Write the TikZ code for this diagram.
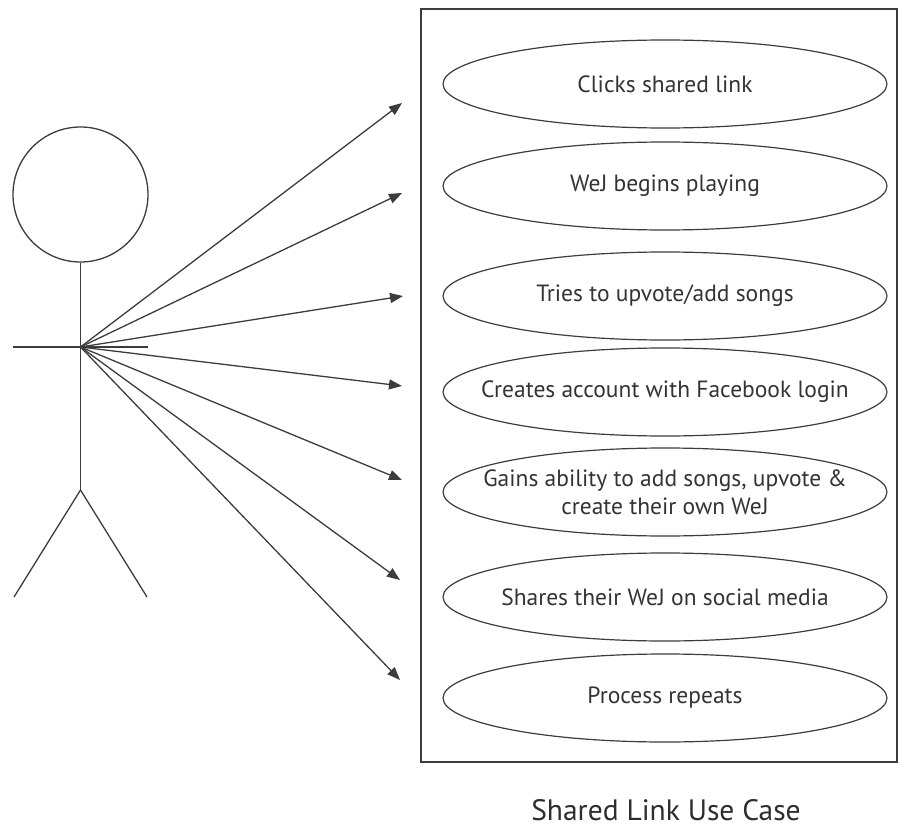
\documentclass[tikz,border=0pt]{standalone}
\usepackage{fontspec}
\setmainfont{PT Sans}
\usetikzlibrary{arrows.meta}
\definecolor{ink}{HTML}{3C3C3C}
\begin{document}
\begin{tikzpicture}[x=1pt,y=-1pt,
  uctext/.style={inner sep=0pt,align=center,font=\fontsize{23.5}{28}\selectfont,text=ink!85!black},
  ucline/.style={draw=ink,line width=1.2pt},
  limb/.style={draw=ink,line width=1.3pt},
  assoc/.style={draw=ink,line width=1.3pt,-{Triangle[length=13pt,width=10pt]}}]
\useasboundingbox (0,0) rectangle (898,827);
% system boundary
\draw[ink,line width=1.3pt] (421,9) rectangle (897,762);
% use cases
\node[uctext] (u1) at (665,84) {Clicks shared link};
\node[uctext] (u2) at (665,186) {WeJ begins playing};
\node[uctext] (u3) at (665,296) {Tries to upvote/add songs};
\node[uctext] (u4) at (665,392) {Creates account with Facebook login};
\node[uctext] (u5) at (665,492) {Gains ability to add songs, upvote \&\\create their own WeJ};
\node[uctext] (u6) at (665,597) {Shares their WeJ on social media};
\node[uctext] (u7) at (665,698) {Process repeats};
\foreach \i in {1,...,7} \draw[ucline] (u\i.center) ellipse [x radius=222pt,y radius=44pt];
% actor
\node[draw=ink,line width=1.3pt,circle,minimum size=135pt,inner sep=0pt] (head) at (80.5,194.5) {};
\coordinate (hand) at (80.5,347);
\coordinate (hip) at (80.5,490);
\coordinate (larm) at (13,347);
\coordinate (rarm) at (148,347);
\coordinate (lfoot) at (14,597);
\coordinate (rfoot) at (147,597);
\draw[limb] (head.south) -- (hip);
\draw[limb] (larm) -- (rarm);
\draw[limb] (hip) -- (lfoot);
\draw[limb] (hip) -- (rfoot);
% arrow ends
\coordinate (t1) at (402,103);
\coordinate (t2) at (402,193);
\coordinate (t3) at (403,296);
\coordinate (t4) at (402,386);
\coordinate (t5) at (402,480);
\coordinate (t6) at (400,580);
\coordinate (t7) at (400,680);
\foreach \i in {1,...,7} \draw[assoc] (hand) -- (t\i);
% caption
\node[font=\fontsize{29.5}{32}\selectfont,text=ink!75!black] (cap) at (666,810) {Shared Link Use Case};
\end{tikzpicture}
\end{document}
